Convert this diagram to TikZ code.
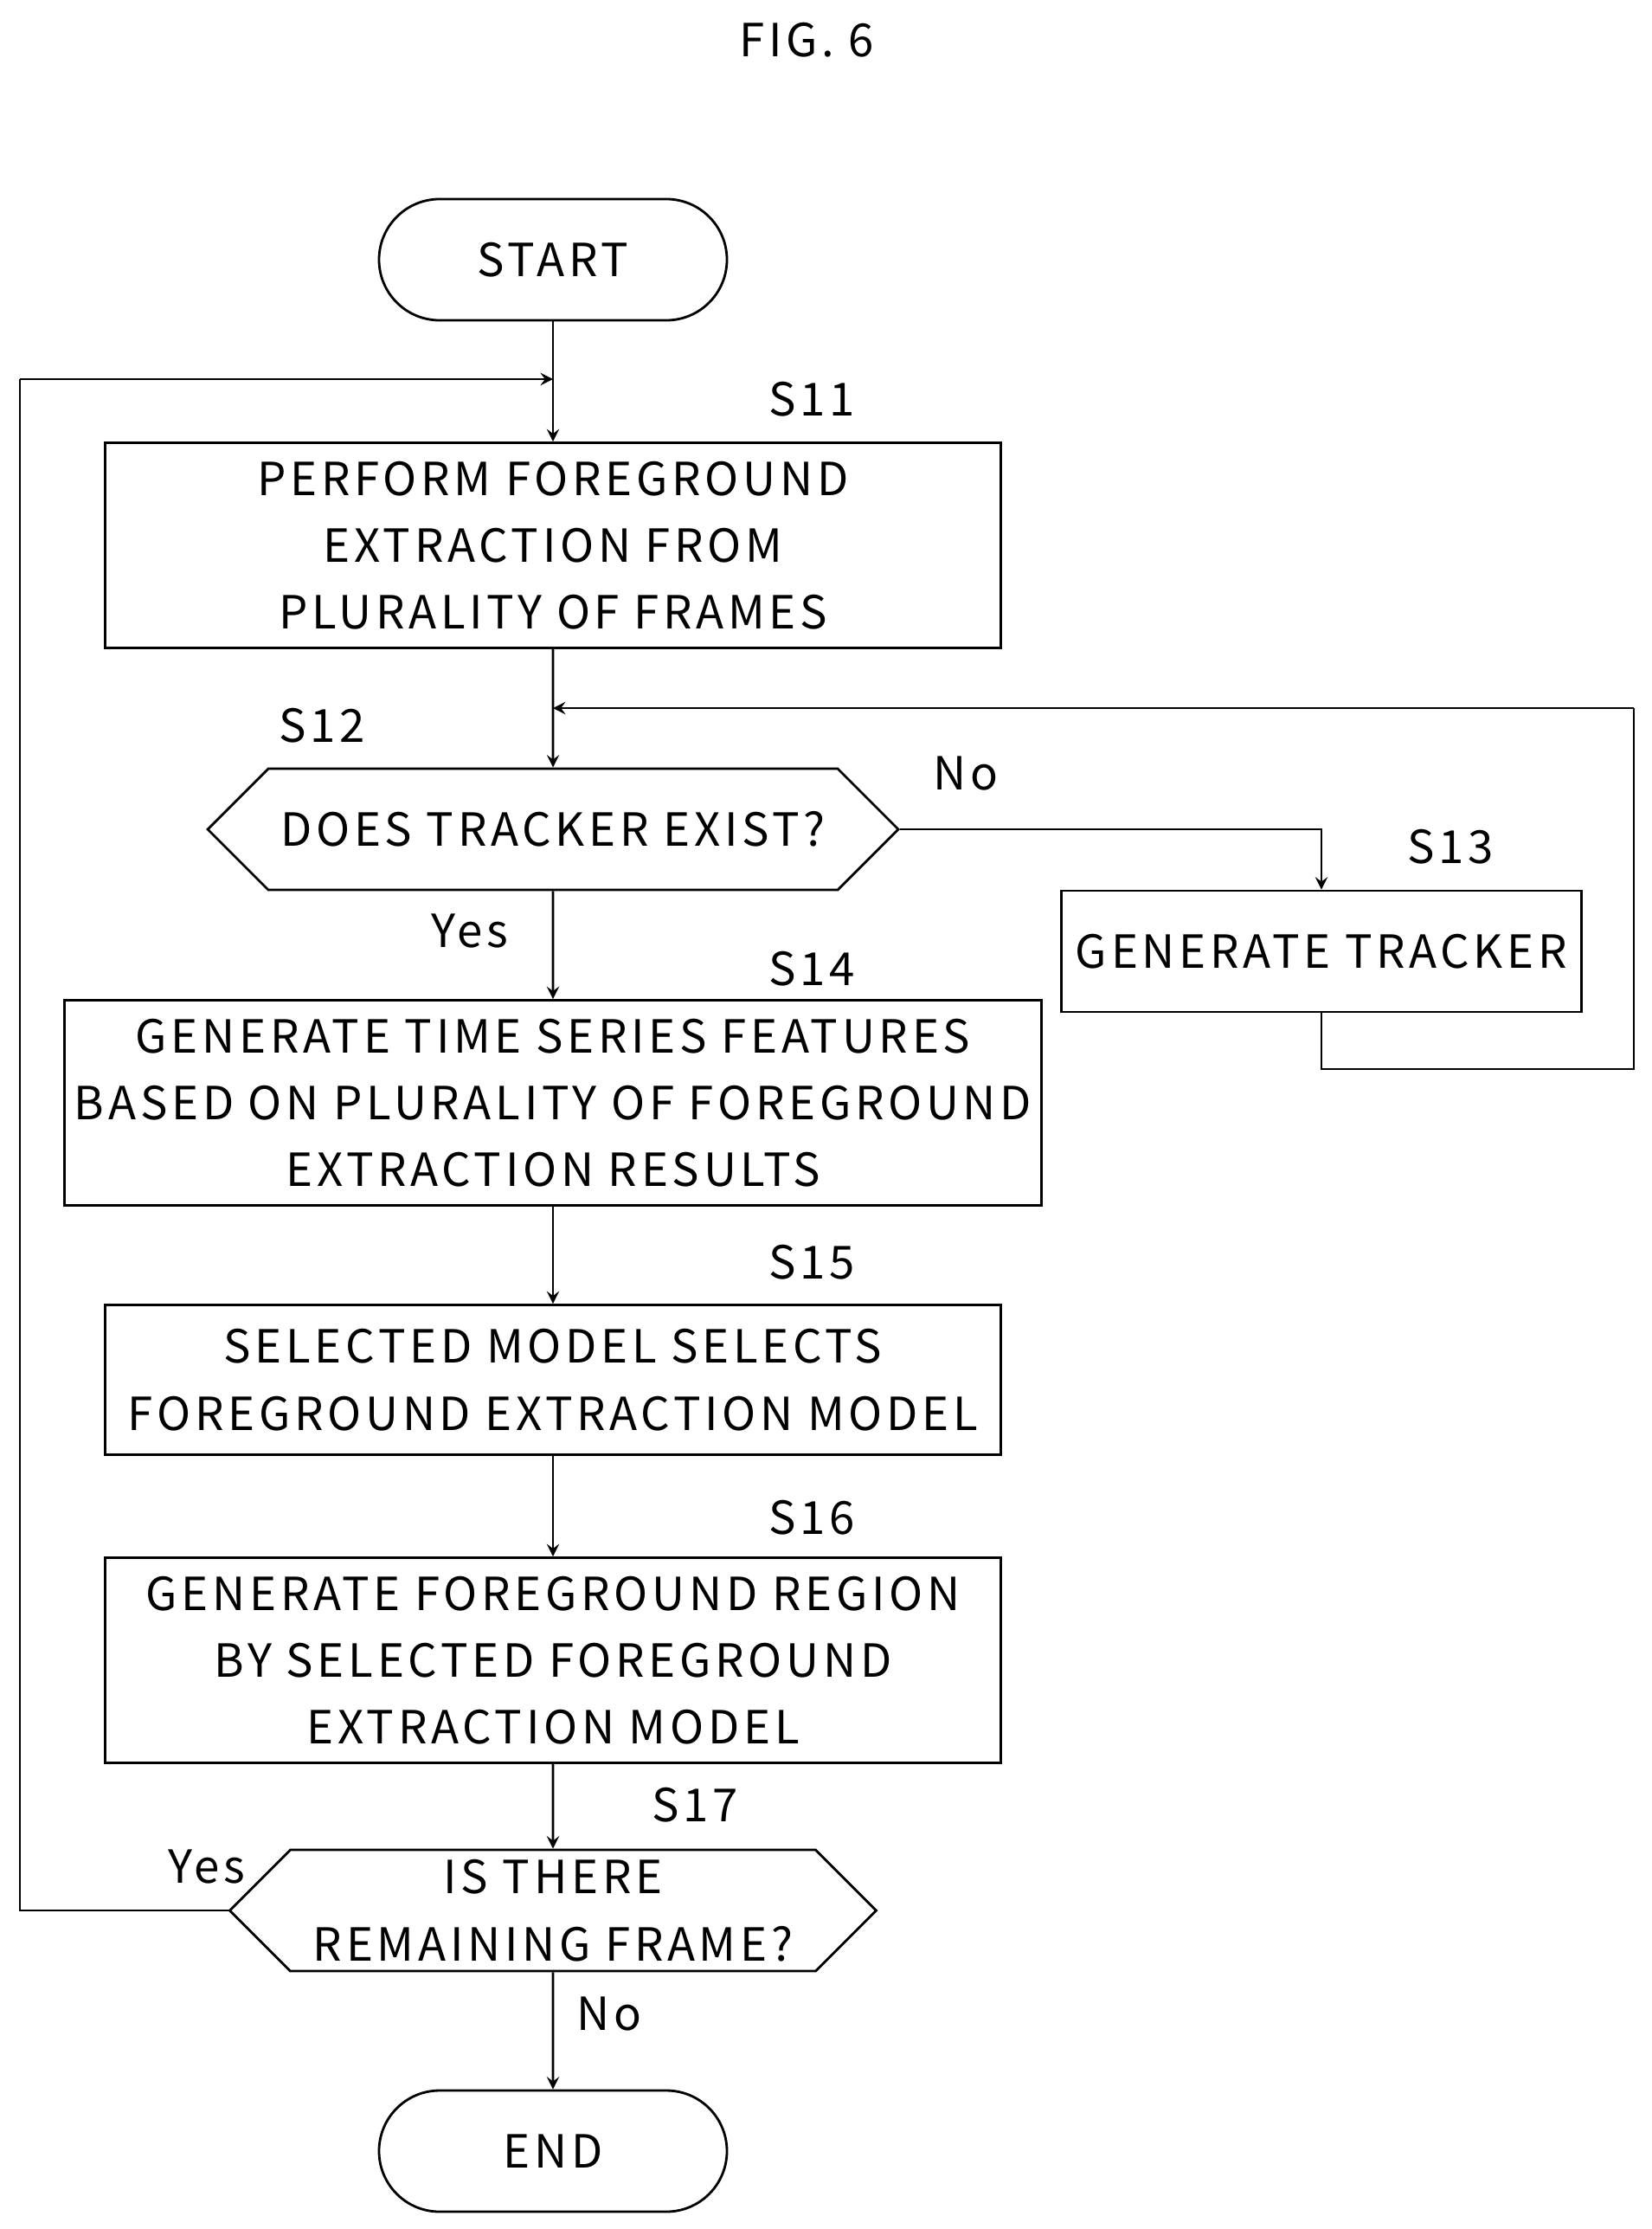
\documentclass[tikz,border=0pt]{standalone}
\usepackage{fontspec}
\setmainfont{Noto Sans CJK JP}[LetterSpace=9]
\usetikzlibrary{shapes.geometric, shapes.symbols, arrows, positioning}

\begin{document}
\begin{tikzpicture}[auto, font=\fontsize{15}{22}\selectfont]
    \tikzstyle{terminal} = [rectangle, rounded corners=0.7cm, minimum width=4.02cm, minimum height=1.40cm, text centered, draw=black, thick]
    \tikzstyle{process}  = [rectangle, minimum width=10.35cm, text centered, align=center, draw=black, thick]
    \tikzstyle{decision} = [signal, signal to=west and east, signal pointer angle=90, minimum height=1.40cm, text centered, align=center, draw=black, thick, inner sep=0pt]
    \tikzstyle{arrow}    = [thick,->,>=stealth]
    \tikzstyle{line}     = [thick]

    \useasboundingbox (0,0) rectangle (19.09,-25.75);
    \node at (9.32,-0.46) {FIG. 6};

    % Main flow
    \node [terminal] (start) at (6.39,-3.00) {START};
    \node [process, minimum height=2.37cm] (extract) at (6.39,-6.30) {PERFORM FOREGROUND\\EXTRACTION FROM\\PLURALITY OF FRAMES};
    \node [decision, minimum width=7.98cm] (exist) at (6.39,-9.58) {DOES TRACKER EXIST?};
    \node [process, minimum width=6.01cm, minimum height=1.40cm] (tracker) at (15.27,-10.99) {GENERATE TRACKER};
    \node [process, minimum height=2.37cm] (features) at (6.39,-12.74) {GENERATE TIME SERIES FEATURES\\BASED ON PLURALITY OF FOREGROUND\\EXTRACTION RESULTS};
    \node [process, minimum height=1.73cm] (select) at (6.39,-15.94) {SELECTED MODEL SELECTS\\FOREGROUND EXTRACTION MODEL};
    \node [process, minimum height=2.37cm] (region) at (6.39,-19.18) {GENERATE FOREGROUND REGION\\BY SELECTED FOREGROUND\\EXTRACTION MODEL};
    \node [decision, minimum width=7.47cm] (remain) at (6.39,-22.07) {IS THERE\\REMAINING FRAME?};
    \node [terminal] (end) at (6.39,-24.85) {END};

    % Step labels
    \node at (9.38,-4.61) {S11};
    \node at (3.72,-8.38) {S12};
    \node at (16.76,-9.78) {S13};
    \node at (9.38,-11.19) {S14};
    \node at (9.38,-14.58) {S15};
    \node at (9.38,-17.53) {S16};
    \node at (8.03,-20.85) {S17};
    \node at (11.16,-8.94) {No};
    \node at (5.43,-10.76) {Yes};
    \node at (2.39,-21.56) {Yes};
    \node at (7.04,-23.26) {No};

    % Loop points
    \coordinate (looptop) at (6.39,-4.38);
    \coordinate (loopleft) at (0.23,-4.38);
    \coordinate (merge) at (6.39,-8.18);
    \coordinate (backbot) at (18.88,-12.35);
    \coordinate (backtop) at (18.88,-8.18);

    % Arrows
    \draw [arrow] (start)    -- (extract);
    \draw [arrow] (extract)  -- (exist);
    \draw [arrow] (exist.east) -| (tracker.north);
    \draw [line]  (tracker.south) |- (backbot) -- (backtop);
    \draw [arrow] (backtop)  -- (merge);
    \draw [arrow] (exist)    -- (features);
    \draw [arrow] (features) -- (select);
    \draw [arrow] (select)   -- (region);
    \draw [arrow] (region)   -- (remain);
    \draw [arrow] (remain)   -- (end);
    \draw [line]  (remain.west) -| (loopleft);
    \draw [arrow] (loopleft) -- (looptop);

\end{tikzpicture}
\end{document}
